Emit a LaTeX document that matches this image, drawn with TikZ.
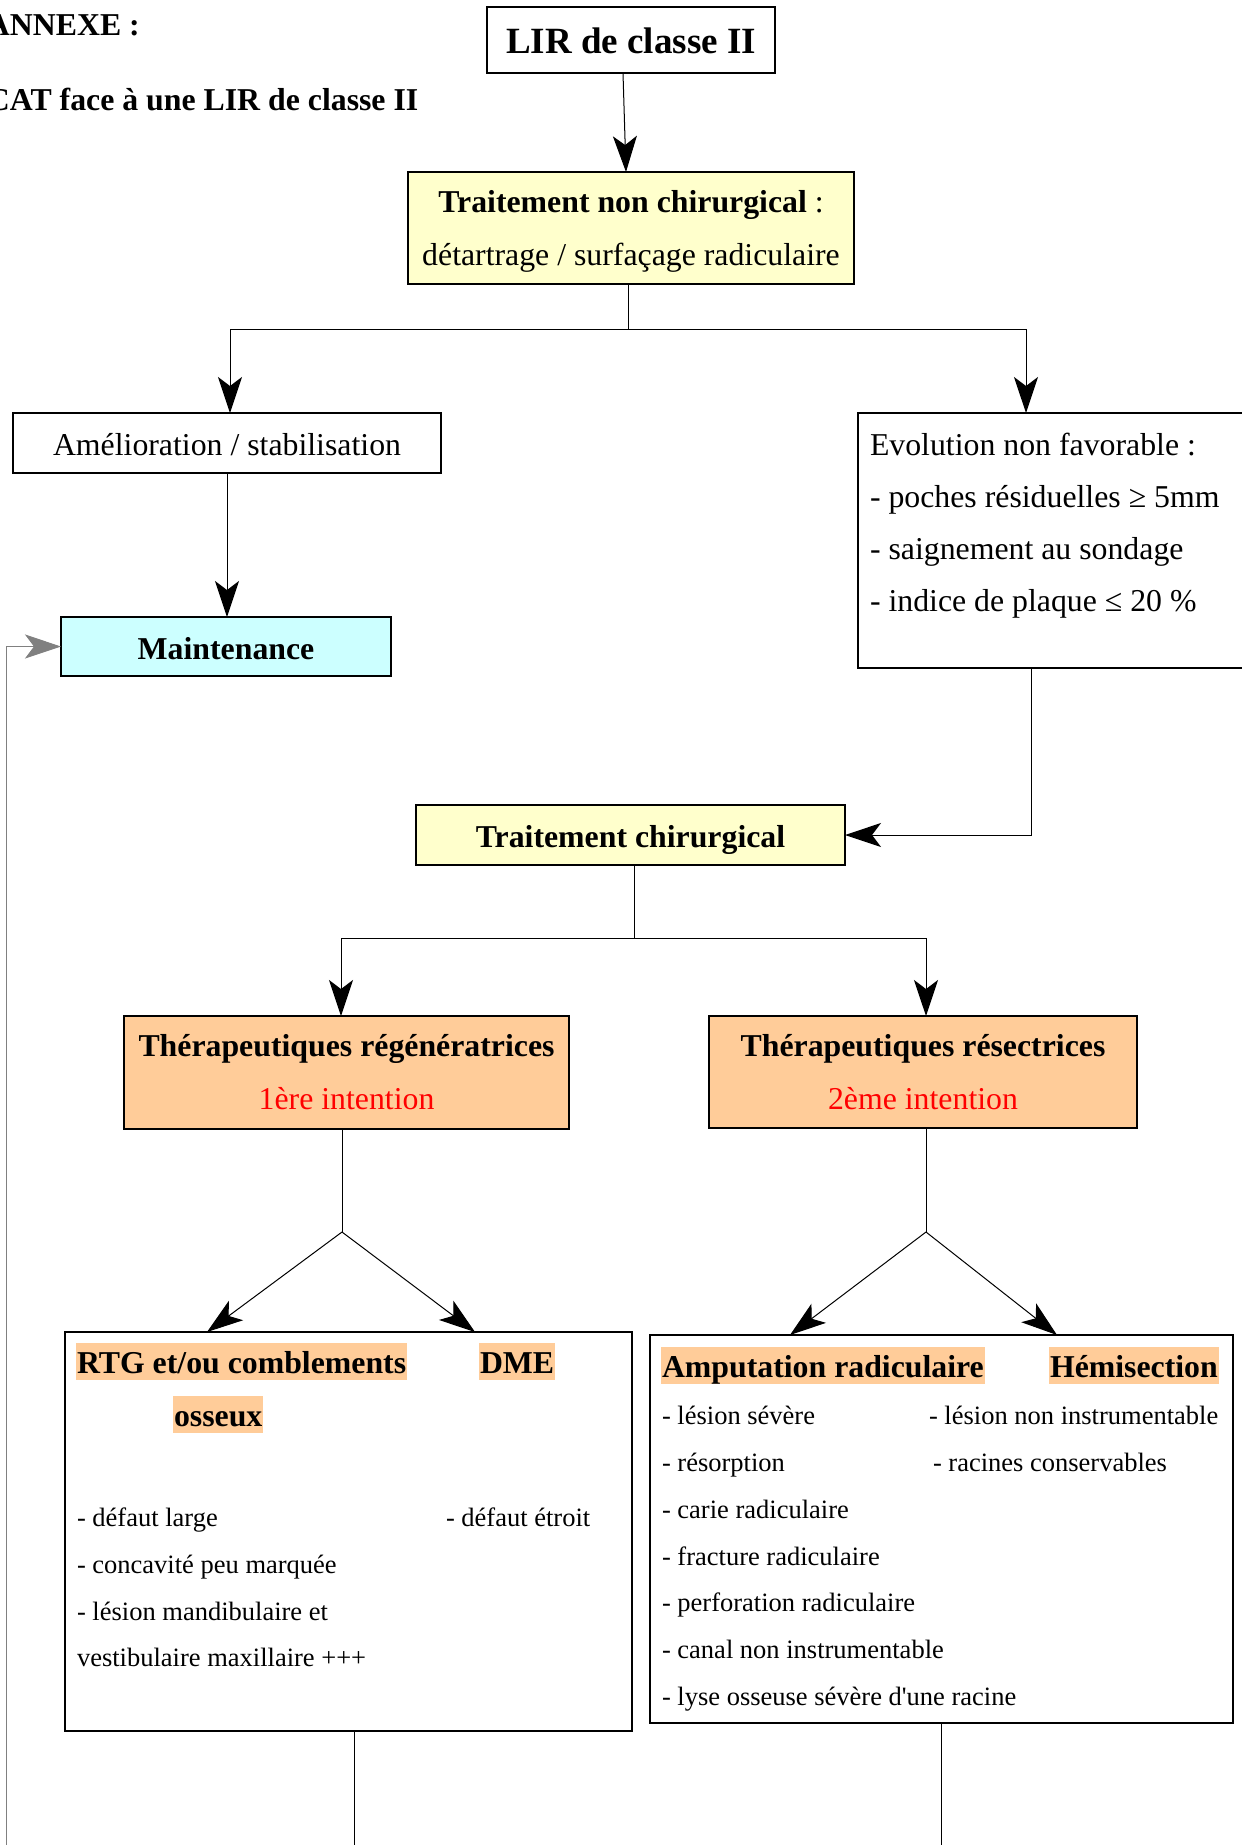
\documentclass[tikz,border=0pt]{standalone}
\usepackage{fontspec}
\setmainfont{Liberation Serif}
\usetikzlibrary{arrows.meta}
\definecolor{tyellow}{HTML}{FFFFCC}
\definecolor{tcyan}{HTML}{CCFFFF}
\definecolor{torange}{HTML}{FFCC99}
\begin{document}
\begin{tikzpicture}[x=1pt,y=-1pt,
  box/.style={draw, line width=1.5pt, inner sep=0pt, outer sep=0pt, anchor=north west},
  tc/.style={inner sep=0pt, outer sep=0pt, anchor=base, font=\fontsize{31.8pt}{38pt}\selectfont},
  tcb/.style={tc, font=\fontsize{31.8pt}{38pt}\selectfont\bfseries},
  tl/.style={tc, anchor=base west},
  tlb/.style={tcb, anchor=base west},
  sm/.style={inner sep=0pt, outer sep=0pt, anchor=base west, font=\fontsize{26.5pt}{32pt}\selectfont},
  hl/.style={inner xsep=1pt, inner ysep=0pt, outer sep=0pt, anchor=base west, fill=torange, text height=30pt, text depth=7pt, font=\fontsize{31.8pt}{38pt}\selectfont\bfseries},
  arr/.style={-{Stealth[length=36pt,width=24pt,inset=9pt]}, line width=1pt},
  garr/.style={-{Stealth[length=36pt,width=24pt,inset=9pt]}, line width=1pt, color=gray},
  ln/.style={line width=1pt}
]
\clip (0,0) rectangle (1242,1845);
\fill[white] (0,0) rectangle (1242,1845);

% header texts
\node[tlb] (annexe) at (-13,35) {ANNEXE :};
\node[tlb] (cat) at (-13,110) {CAT face à une LIR de classe II};

% boxes
\node[box, minimum width=288pt, minimum height=66pt] (lir) at (487,7) {};
\node[box, fill=tyellow, minimum width=446pt, minimum height=112pt] (tnc) at (408,172) {};
\node[box, minimum width=428pt, minimum height=60pt] (amel) at (13,413) {};
\node[box, minimum width=400pt, minimum height=255pt] (evo) at (858,413) {};
\node[box, fill=tcyan, minimum width=330pt, minimum height=59pt] (maint) at (61,617) {};
\node[box, fill=tyellow, minimum width=429pt, minimum height=60pt] (tch) at (416,805) {};
\node[box, fill=torange, minimum width=445pt, minimum height=113pt] (tr) at (124,1016) {};
\node[box, fill=torange, minimum width=428pt, minimum height=112pt] (tres) at (709,1016) {};
\node[box, minimum width=567pt, minimum height=399pt] (rtg) at (65,1332) {};
\node[box, minimum width=583pt, minimum height=388pt] (amp) at (650,1335) {};

% texts
\node[tc, font=\fontsize{37pt}{44pt}\selectfont\bfseries] (lirT) at (631,53) {LIR de classe II};
\node[tc] (tnc1) at (631,212) {\textbf{Traitement non chirurgical} :};
\node[tc] (tnc2) at (631,265.5) {détartrage / surfaçage radiculaire};
\node[tc] (amelT) at (227,455) {Amélioration / stabilisation};
\node[tl] (evo1) at (870,455) {Evolution non favorable :};
\node[tl] (evo2) at (870,507) {- poches résiduelles ≥ 5mm};
\node[tl] (evo3) at (870,559) {- saignement au sondage};
\node[tl] (evo4) at (870,611) {- indice de plaque ≤ 20 \%};
\node[tcb] (maintT) at (226,659) {Maintenance};
\node[tcb] (tchT) at (630.5,847) {Traitement chirurgical};
\node[tcb] (tr1) at (346.5,1056) {Thérapeutiques régénératrices};
\node[tc, text=red] (tr2) at (346.5,1109) {1ère intention};
\node[tcb] (tres1) at (923,1056) {Thérapeutiques résectrices};
\node[tc, text=red] (tres2) at (923,1109) {2ème intention};

\node[hl] (rtgH) at (76,1373) {RTG et/ou comblements};
\node[hl] (dmeH) at (479,1373) {DME};
\node[hl] (ossH) at (173,1426) {osseux};
\node[sm] (r1) at (77,1526) {- défaut large};
\node[sm] (r2) at (77,1573) {- concavité peu marquée};
\node[sm] (r3) at (77,1620) {- lésion mandibulaire et};
\node[sm] (r4) at (77,1666) {vestibulaire maxillaire +++};
\node[sm] (d1) at (446,1526) {- défaut étroit};

\node[hl] (ampH) at (661,1377) {Amputation radiculaire};
\node[hl] (hemH) at (1049,1377) {Hémisection};
\node[sm] (a1) at (662,1424) {- lésion sévère};
\node[sm] (a2) at (662,1471) {- résorption};
\node[sm] (a3) at (662,1518) {- carie radiculaire};
\node[sm] (a4) at (662,1565) {- fracture radiculaire};
\node[sm] (a5) at (662,1611) {- perforation radiculaire};
\node[sm] (a6) at (662,1658) {- canal non instrumentable};
\node[sm] (a7) at (662,1705) {- lyse osseuse sévère d\textquotesingle une racine};
\node[sm] (h1) at (929,1424) {- lésion non instrumentable};
\node[sm] (h2) at (933,1471) {- racines conservables};

% connectors
\draw[arr] ([xshift=136pt]lir.south west) -- ([xshift=218pt]tnc.north west);
\coordinate (j1) at (628,329);
\draw[ln] (tnc.south -| j1) -- (j1);
\draw[arr] (j1) -| ([xshift=217pt]amel.north west);
\draw[arr] (j1) -| ([xshift=168pt]evo.north west);
\draw[arr] (amel.south) -- (amel.south |- maint.north);
\draw[arr] ([xshift=173pt]evo.south west) |- (tch.east);
\coordinate (j2) at (634,938);
\draw[ln] (tch.south -| j2) -- (j2);
\draw[arr] (j2) -| ([xshift=217pt]tr.north west);
\draw[arr] (j2) -| ([xshift=217pt]tres.north west);
\coordinate (j3) at (342,1232);
\draw[ln] (tr.south -| j3) -- (j3);
\draw[arr] (j3) -- ([xshift=142pt]rtg.north west);
\draw[arr] (j3) -- ([xshift=410pt]rtg.north west);
\coordinate (j4) at (926,1232);
\draw[ln] (tres.south -| j4) -- (j4);
\draw[arr] (j4) -- ([xshift=140pt]amp.north west);
\draw[arr] (j4) -- ([xshift=407pt]amp.north west);
\coordinate (e1) at (354,1850);
\coordinate (e2) at (941.5,1850);
\coordinate (fb) at (6,1850);
\draw[ln] (rtg.south west -| e1) -- (e1);
\draw[ln] (amp.south) -- (e2);
\draw[garr] (fb) |- (maint.west);
\end{tikzpicture}
\end{document}
